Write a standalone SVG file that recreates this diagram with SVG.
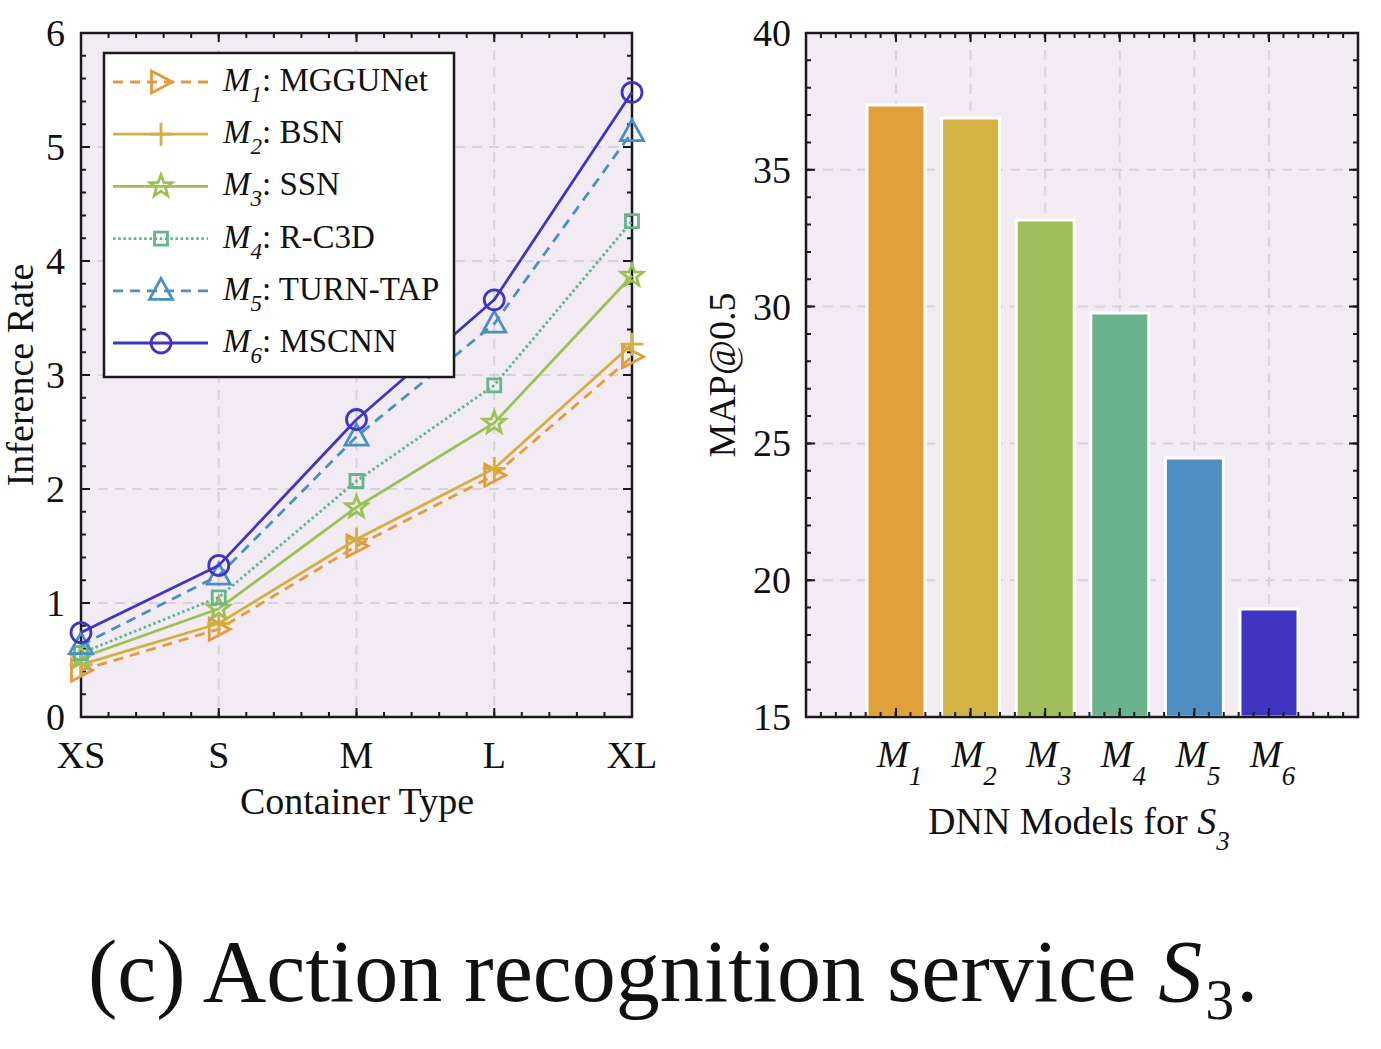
<svg xmlns="http://www.w3.org/2000/svg" width="1381" height="1049" viewBox="0 0 1381 1049">
<style>
.bg{fill:#F2EBF4}
.frame{fill:none;stroke:#1a1a1a;stroke-width:2.5}
.grid{fill:none;stroke:#D8D2DA;stroke-width:2;stroke-dasharray:10 7}
.tk{fill:none;stroke:#1a1a1a}
.txt{font-family:"Liberation Serif","Times New Roman",serif;font-size:38px;fill:#111}
.it{font-style:italic}
.ser{fill:none;stroke-width:2.8;stroke-linejoin:round}
.mk{fill:none;stroke-width:2.8;stroke-linejoin:miter}
.c1{stroke:#E39B3A}.c2{stroke:#D4AF40}.c3{stroke:#9CC054}.c4{stroke:#66B48B}.c5{stroke:#4A8FC3}.c6{stroke:#4034C2}
.d1{stroke-dasharray:10 7}.d4{stroke-dasharray:2.6 2.6}.d5{stroke-dasharray:10 7}
.bar{stroke:#fff;stroke-width:3}
</style>
<defs>
<path id="m1" d="M-9.5,-11 L11.5,0 L-9.5,11 Z"/>
<path id="m2" d="M-11.5,0 H11.5 M0,-11.5 V11.5"/>
<path id="m3" d="M0,-11.5 L2.8,-3.9 L10.9,-3.55 L4.55,1.48 L6.76,9.3 L0,4.8 L-6.76,9.3 L-4.55,1.48 L-10.9,-3.55 L-2.8,-3.9 Z"/>
<path id="m4" d="M-6.5,-6.5 H6.5 V6.5 H-6.5 Z"/>
<path id="m5" d="M0,-12.5 L11.5,8.5 L-11.5,8.5 Z"/>
<circle id="m6" r="10"/>
</defs>
<rect width="1381" height="1049" fill="#fff"/>

<g id="left-plot">
<rect class="bg" x="81" y="33" width="551" height="684"/>
<g class="grid">
<path d="M81,603 H632 M81,489 H632 M81,375 H632 M81,261 H632 M81,147 H632"/>
<path d="M218.75,33 V717 M356.5,33 V717 M494.25,33 V717"/>
</g>
<g class="tk">
<line x1="83.5" y1="718" x2="83.5" y2="32" stroke-width="5" stroke-dasharray="2 20.8"/>
<line x1="85.5" y1="718" x2="85.5" y2="32" stroke-width="9" stroke-dasharray="2 112"/>
<line x1="629.5" y1="718" x2="629.5" y2="32" stroke-width="5" stroke-dasharray="2 20.8"/>
<line x1="627.5" y1="718" x2="627.5" y2="32" stroke-width="9" stroke-dasharray="2 112"/>
<line x1="80" y1="714.5" x2="633" y2="714.5" stroke-width="5" stroke-dasharray="2 25.55"/>
<line x1="80" y1="712.5" x2="633" y2="712.5" stroke-width="9" stroke-dasharray="2 135.75"/>
<line x1="80" y1="35.5" x2="633" y2="35.5" stroke-width="5" stroke-dasharray="2 25.55"/>
<line x1="80" y1="37.5" x2="633" y2="37.5" stroke-width="9" stroke-dasharray="2 135.75"/>
</g>
<rect class="frame" x="81" y="33" width="551" height="684"/>
<g class="txt" text-anchor="end">
<text x="65" y="730">0</text><text x="65" y="616">1</text><text x="65" y="502">2</text><text x="65" y="388">3</text><text x="65" y="274">4</text><text x="65" y="160">5</text><text x="65" y="46">6</text>
</g>
<g class="txt" text-anchor="middle">
<text x="81" y="768">XS</text><text x="218.75" y="768">S</text><text x="356.5" y="768">M</text><text x="494.25" y="768">L</text><text x="632" y="768">XL</text>
<text x="357" y="814">Container Type</text>
<text transform="translate(33,375) rotate(-90)">Inference Rate</text>
</g>
</g>

<g id="series">
<g id="s-m1">
<polyline class="ser c1 d1" points="81,670.3 218.75,629.2 356.5,546 494.25,475.3 632,356.8"/>
<g class="mk c1"><use href="#m1" x="81" y="670.3"/><use href="#m1" x="218.75" y="629.2"/><use href="#m1" x="356.5" y="546"/><use href="#m1" x="494.25" y="475.3"/><use href="#m1" x="632" y="356.8"/></g>
</g>
<g id="s-m2">
<polyline class="ser c2" points="81,664.6 218.75,623.5 356.5,539.2 494.25,468.5 632,344.2"/>
<g class="mk c2"><use href="#m2" x="81" y="664.6"/><use href="#m2" x="218.75" y="623.5"/><use href="#m2" x="356.5" y="539.2"/><use href="#m2" x="494.25" y="468.5"/><use href="#m2" x="632" y="344.2"/></g>
</g>
<g id="s-m3">
<polyline class="ser c3" points="81,657.7 218.75,608.7 356.5,507.2 494.25,422.9 632,275.8"/>
<g class="mk c3"><use href="#m3" x="81" y="657.7"/><use href="#m3" x="218.75" y="608.7"/><use href="#m3" x="356.5" y="507.2"/><use href="#m3" x="494.25" y="422.9"/><use href="#m3" x="632" y="275.8"/></g>
</g>
<g id="s-m4">
<polyline class="ser c4 d4" points="81,653.2 218.75,597.3 356.5,481 494.25,385.3 632,221.1"/>
<g class="mk c4"><use href="#m4" x="81" y="653.2"/><use href="#m4" x="218.75" y="597.3"/><use href="#m4" x="356.5" y="481"/><use href="#m4" x="494.25" y="385.3"/><use href="#m4" x="632" y="221.1"/></g>
</g>
<g id="s-m5">
<polyline class="ser c5 d5" points="81,645.2 218.75,575.6 356.5,436.6 494.25,323.7 632,132.2"/>
<g class="mk c5"><use href="#m5" x="81" y="645.2"/><use href="#m5" x="218.75" y="575.6"/><use href="#m5" x="356.5" y="436.6"/><use href="#m5" x="494.25" y="323.7"/><use href="#m5" x="632" y="132.2"/></g>
</g>
<g id="s-m6">
<polyline class="ser c6" points="81,632.6 218.75,565.4 356.5,419.5 494.25,299.8 632,92.3"/>
<g class="mk c6"><use href="#m6" x="81" y="632.6"/><use href="#m6" x="218.75" y="565.4"/><use href="#m6" x="356.5" y="419.5"/><use href="#m6" x="494.25" y="299.8"/><use href="#m6" x="632" y="92.3"/></g>
</g>
</g>

<g id="legend">
<rect x="104" y="53" width="350" height="324" fill="#fff" stroke="#1a1a1a" stroke-width="2.5"/>
<line class="ser c1 d1" x1="113" y1="82" x2="208" y2="82"/><use class="mk c1" href="#m1" x="161" y="82"/>
<line class="ser c2" x1="113" y1="134.2" x2="208" y2="134.2"/><use class="mk c2" href="#m2" x="161" y="134.2"/>
<line class="ser c3" x1="113" y1="186.4" x2="208" y2="186.4"/><use class="mk c3" href="#m3" x="161" y="186.4"/>
<line class="ser c4 d4" x1="113" y1="238.6" x2="208" y2="238.6"/><use class="mk c4" href="#m4" x="161" y="238.6"/>
<line class="ser c5 d5" x1="113" y1="290.8" x2="208" y2="290.8"/><use class="mk c5" href="#m5" x="161" y="290.8"/>
<line class="ser c6" x1="113" y1="343" x2="208" y2="343"/><use class="mk c6" href="#m6" x="161" y="343"/>
<g class="txt" style="font-size:33px">
<text x="223" y="91"><tspan class="it">M</tspan><tspan class="it" dy="11" font-size="23">1</tspan><tspan dy="-11">: MGGUNet</tspan></text>
<text x="223" y="143.2"><tspan class="it">M</tspan><tspan class="it" dy="11" font-size="23">2</tspan><tspan dy="-11">: BSN</tspan></text>
<text x="223" y="195.4"><tspan class="it">M</tspan><tspan class="it" dy="11" font-size="23">3</tspan><tspan dy="-11">: SSN</tspan></text>
<text x="223" y="247.6"><tspan class="it">M</tspan><tspan class="it" dy="11" font-size="23">4</tspan><tspan dy="-11">: R-C3D</tspan></text>
<text x="223" y="299.8"><tspan class="it">M</tspan><tspan class="it" dy="11" font-size="23">5</tspan><tspan dy="-11">: TURN-TAP</tspan></text>
<text x="223" y="352"><tspan class="it">M</tspan><tspan class="it" dy="11" font-size="23">6</tspan><tspan dy="-11">: MSCNN</tspan></text>
</g>
</g>

<g id="right-plot">
<rect class="bg" x="806" y="33" width="552" height="684"/>
<g class="grid">
<path d="M806,169.8 H1358 M806,306.6 H1358 M806,443.4 H1358 M806,580.2 H1358"/>
<path d="M896,33 V717 M970.6,33 V717 M1045.2,33 V717 M1119.8,33 V717 M1194.4,33 V717 M1269,33 V717"/>
</g>
<g id="bars">
<rect class="bar" x="867" y="105" width="58" height="612" fill="#E0A03C"/>
<rect class="bar" x="941.6" y="118" width="58" height="599" fill="#D2B343"/>
<rect class="bar" x="1016.2" y="220" width="58" height="497" fill="#9DBE5A"/>
<rect class="bar" x="1090.8" y="313" width="58" height="404" fill="#6BB38C"/>
<rect class="bar" x="1165.4" y="458" width="58" height="259" fill="#4E8EC0"/>
<rect class="bar" x="1240" y="609" width="58" height="108" fill="#4035C0"/>
</g>
<g class="tk">
<line x1="808.5" y1="718" x2="808.5" y2="32" stroke-width="5" stroke-dasharray="2 25.36"/>
<line x1="810.5" y1="718" x2="810.5" y2="32" stroke-width="9" stroke-dasharray="2 134.8"/>
<line x1="1355.5" y1="718" x2="1355.5" y2="32" stroke-width="5" stroke-dasharray="2 25.36"/>
<line x1="1353.5" y1="718" x2="1353.5" y2="32" stroke-width="9" stroke-dasharray="2 134.8"/>
<line x1="805" y1="714.5" x2="1359" y2="714.5" stroke-width="5" stroke-dasharray="2 12.92"/>
<line x1="895" y1="712.5" x2="1271" y2="712.5" stroke-width="9" stroke-dasharray="2 72.6"/>
<line x1="805" y1="35.5" x2="1359" y2="35.5" stroke-width="5" stroke-dasharray="2 12.92"/>
<line x1="895" y1="37.5" x2="1271" y2="37.5" stroke-width="9" stroke-dasharray="2 72.6"/>
</g>
<rect class="frame" x="806" y="33" width="552" height="684"/>
<g class="txt" text-anchor="end">
<text x="791" y="730">15</text><text x="791" y="593.2">20</text><text x="791" y="456.4">25</text><text x="791" y="319.6">30</text><text x="791" y="182.8">35</text><text x="791" y="46">40</text>
</g>
<g class="txt">
<text x="877" y="767"><tspan class="it">M</tspan><tspan class="it" dy="18" font-size="27">1</tspan></text>
<text x="951.6" y="767"><tspan class="it">M</tspan><tspan class="it" dy="18" font-size="27">2</tspan></text>
<text x="1026.2" y="767"><tspan class="it">M</tspan><tspan class="it" dy="18" font-size="27">3</tspan></text>
<text x="1100.8" y="767"><tspan class="it">M</tspan><tspan class="it" dy="18" font-size="27">4</tspan></text>
<text x="1175.4" y="767"><tspan class="it">M</tspan><tspan class="it" dy="18" font-size="27">5</tspan></text>
<text x="1250" y="767"><tspan class="it">M</tspan><tspan class="it" dy="18" font-size="27">6</tspan></text>
<text x="928" y="834">DNN Models for <tspan class="it">S</tspan><tspan class="it" dy="16" font-size="27">3</tspan></text>
<text transform="translate(735,375) rotate(-90)" text-anchor="middle">MAP@0.5</text>
</g>
</g>

<g id="caption">
<text x="88" y="1001" style="font-family:'Liberation Serif','Times New Roman',serif;font-size:88px;fill:#111">(c) Action recognition service <tspan font-style="italic">S</tspan><tspan dx="3" dy="18" font-size="58">3</tspan><tspan dx="2" dy="-18">.</tspan></text>
</g>
</svg>
